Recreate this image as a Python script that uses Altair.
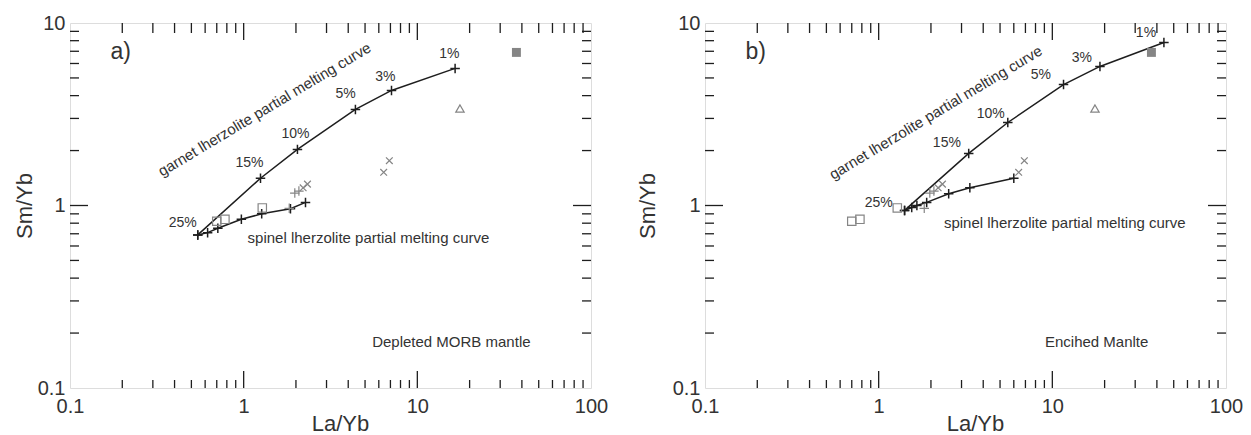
import altair as alt
import pandas as pd

FONT = "Liberation Sans"
W, H = 521, 365
INK = "#1e1e1e"
GRAY = "#858585"

# ---- shared sample data (grey symbols) ----
sq_x = [0.70, 0.78, 1.28]
sq_y = [0.82, 0.84, 0.97]
plus_x = [1.83, 1.97, 2.08]
plus_y = [0.965, 1.17, 1.20]
cross_x = [2.20, 2.33, 6.40, 6.90]
cross_y = [1.25, 1.31, 1.52, 1.76]
tri_x = [17.6]
tri_y = [3.40]
fsq_x = [37.2]
fsq_y = [6.90]

# ---- melting curves ----
garnet_a_x = [0.544, 1.25, 2.04, 4.4, 7.1, 16.5]
garnet_a_y = [0.69, 1.41, 2.03, 3.36, 4.27, 5.64]
spinel_a_x = [0.544, 0.62, 0.71, 0.97, 1.27, 1.86, 2.27]
spinel_a_y = [0.69, 0.71, 0.75, 0.84, 0.90, 0.96, 1.04]

garnet_b_x = [1.41, 3.30, 5.54, 11.6, 18.8, 43.9]
garnet_b_y = [0.94, 1.93, 2.85, 4.6, 5.78, 7.82]
spinel_b_x = [1.41, 1.55, 1.66, 1.89, 2.53, 3.35, 6.0]
spinel_b_y = [0.94, 0.975, 1.0, 1.04, 1.16, 1.25, 1.41]

pct_labels = ["25%", "15%", "10%", "5%", "3%", "1%"]
pct_a_x = [0.446, 1.08, 1.99, 3.86, 6.55, 15.3]
pct_a_y = [0.80, 1.70, 2.48, 4.06, 5.09, 6.8]
pct_b_x = [1.0, 2.47, 4.42, 8.58, 14.8, 34.6]
pct_b_y = [1.03, 2.19, 3.19, 5.16, 6.47, 8.76]

garnet_text = "garnet lherzolite partial melting curve"
spinel_text = "spinel lherzolite partial melting curve"
garnet_text_a = (1.32, 3.36)
spinel_text_a = (5.23, 0.66)
garnet_text_b = (2.13, 3.23)
spinel_text_b = (11.8, 0.80)
source_a = ("Depleted MORB mantle", 15.7, 0.178)
source_b = ("Encihed Manlte", 18.0, 0.178)
panel_tags = ["a)", "b)"]
tag_xy = (0.196, 6.9)

x_ticks = [0.1, 1, 10, 100]
y_ticks = [0.1, 1, 10]
x_minor = [m * d for d in (0.1, 1, 10) for m in range(2, 10)]
x_major = [1, 10]
y_minor = [m * d for d in (0.1, 1) for m in range(2, 10)]
y_major = [1]

PLUS = "M-1,0L1,0M0,-1L0,1"
XSHAPE = "M-1,-1L1,1M-1,1L1,-1"


def df(xs, ys):
    return pd.DataFrame({"x": xs, "y": ys, "i": range(len(xs))})


def build(gx, gy, sx, sy, px, py, gt, st, src, tag, ytitle_x):
    xs = alt.Scale(type="log", domain=[0.1, 100])
    ys = alt.Scale(type="log", domain=[0.1, 10])
    X = alt.X("x:Q", scale=xs, title="La/Yb",
              axis=alt.Axis(values=x_ticks, format="~g", ticks=False, tickSize=0,
                            domain=False, grid=False, labelFontSize=20, labelPadding=8,
                            labelFont=FONT, labelColor="#333", titleFont=FONT,
                            titleFontSize=22, titleFontWeight="normal", titleColor="#333",
                            titleX=270, titleY=35, titleBaseline="middle",
                            labelFlush=False))
    Y = alt.Y("y:Q", scale=ys, title="Sm/Yb",
              axis=alt.Axis(values=y_ticks, format="~g", ticks=False, tickSize=0,
                            domain=False, grid=False, labelFontSize=20, labelPadding=5,
                            labelFont=FONT, labelColor="#333", titleFont=FONT,
                            titleFontSize=22, titleFontWeight="normal", titleColor="#333",
                            titleX=ytitle_x, titleBaseline="middle", labelFlush=False))

    def xonly(vals):
        return pd.DataFrame({"x": vals})

    def yonly(vals):
        return pd.DataFrame({"y": vals})

    xsc = alt.X("x:Q", scale=xs)
    ysc = alt.Y("y:Q", scale=ys)
    rule = dict(color=INK, strokeWidth=1.3)
    ticks = [
        alt.Chart(xonly(x_minor)).mark_rule(**rule).encode(xsc, y=alt.value(H), y2=alt.value(H - 8)),
        alt.Chart(xonly(x_major)).mark_rule(**rule).encode(xsc, y=alt.value(H), y2=alt.value(H - 17)),
        alt.Chart(xonly(x_minor)).mark_rule(**rule).encode(xsc, y=alt.value(0), y2=alt.value(10)),
        alt.Chart(xonly(x_major)).mark_rule(**rule).encode(xsc, y=alt.value(0), y2=alt.value(17)),
        alt.Chart(yonly(y_minor)).mark_rule(**rule).encode(ysc, x=alt.value(0), x2=alt.value(9)),
        alt.Chart(yonly(y_major)).mark_rule(**rule).encode(ysc, x=alt.value(0), x2=alt.value(18)),
        alt.Chart(yonly(y_minor)).mark_rule(**rule).encode(ysc, x=alt.value(W), x2=alt.value(W - 9)),
        alt.Chart(yonly(y_major)).mark_rule(**rule).encode(ysc, x=alt.value(W), x2=alt.value(W - 18)),
    ]

    base_axes = alt.Chart(df([0.1, 100], [0.1, 10])).mark_point(opacity=0).encode(X, Y)

    def curve(xv, yv):
        d = df(xv, yv)
        line = alt.Chart(d).mark_line(color=INK, strokeWidth=1.5).encode(xsc, ysc, order="i:Q")
        pts = alt.Chart(d).mark_point(shape=PLUS, size=90, color=INK, strokeWidth=1.5,
                                      filled=False, opacity=1).encode(xsc, ysc)
        return [line, pts]

    def sym(xv, yv, shape, size, filled=False):
        return alt.Chart(df(xv, yv)).mark_point(shape=shape, size=size, color=GRAY,
                                                 strokeWidth=1.2, filled=filled,
                                                 opacity=1).encode(xsc, ysc)

    samples = [
        sym(sq_x, sq_y, "square", 70),
        sym(plus_x, plus_y, PLUS, 90),
        sym(cross_x, cross_y, XSHAPE, 45),
        sym(tri_x, tri_y, "triangle-up", 70),
        sym(fsq_x, fsq_y, "square", 80, filled=True),
    ]

    pct = alt.Chart(pd.DataFrame({"x": px, "y": py, "t": pct_labels})).mark_text(
        font=FONT, fontSize=14, color="#333").encode(xsc, ysc, text="t:N")

    def txt(s, x, y, size, angle=0):
        return alt.Chart(pd.DataFrame({"x": [x], "y": [y], "t": [s]})).mark_text(
            font=FONT, fontSize=size, color="#333", angle=angle, baseline="middle",
            align="center").encode(xsc, ysc, text="t:N")

    texts = [
        txt(garnet_text, gt[0], gt[1], 15, angle=329),
        txt(spinel_text, st[0], st[1], 15),
        txt(src[0], src[1], src[2], 15),
        txt(tag, tag_xy[0], tag_xy[1], 23),
    ]

    layers = [base_axes] + ticks + curve(gx, gy) + curve(sx, sy) + samples + [pct] + texts
    return alt.layer(*layers).properties(width=W, height=H)


pa = build(garnet_a_x, garnet_a_y, spinel_a_x, spinel_a_y, pct_a_x, pct_a_y,
           garnet_text_a, spinel_text_a, source_a, panel_tags[0], -46)
pb = build(garnet_b_x, garnet_b_y, spinel_b_x, spinel_b_y, pct_b_x, pct_b_y,
           garnet_text_b, spinel_text_b, source_b, panel_tags[1], -58)

chart = alt.hconcat(pa, pb, spacing=114, bounds="flush").properties(
    padding={"left": 12, "top": 12, "right": 5, "bottom": 2}
).configure_view(stroke=INK, strokeWidth=1.5).configure(background="white")

chart.save("out.html", embed_options={"renderer": "svg", "actions": False})
